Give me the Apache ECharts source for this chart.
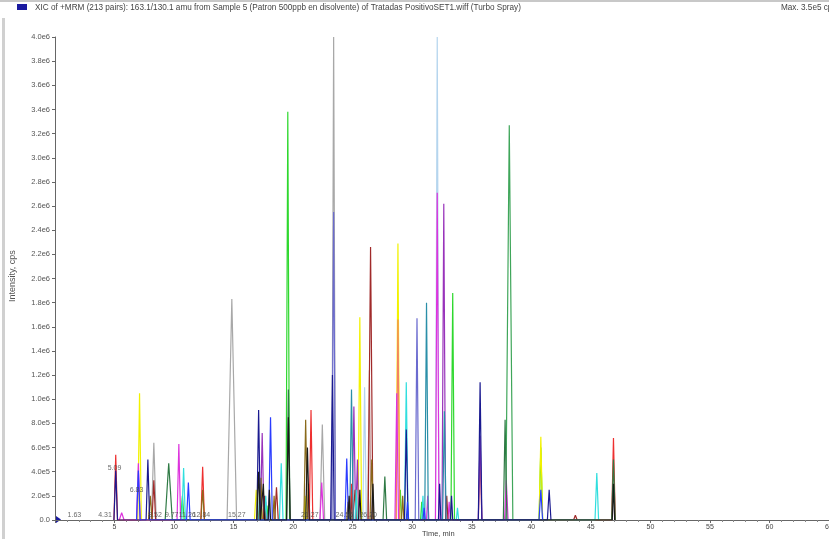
<!DOCTYPE html>
<html>
<head>
<meta charset="utf-8">
<script src="https://cdn.jsdelivr.net/npm/echarts@6/dist/echarts.min.js"></script>
<style>html,body{margin:0;padding:0;background:#fff;}#c{width:829px;height:539px;}</style>
</head>
<body>
<div id="c"></div>
<script>
// ---- data: [time (min), intensity (cps)] ----
const gray = [[8.1,0],[8.3,640000],[8.5,0],[14.45,0],[14.85,1830000],[15.25,0],[22.25,0],[22.45,790000],[22.65,0],[23.25,0],[23.4,4000000],[23.55,0]];
const brightGreen = [[10.55,0],[10.7,200000],[10.85,0],[17.7,0],[17.8,120000],[17.9,0],[19.4,0],[19.55,3380000],[19.7,0],[24.7,0],[24.8,150000],[24.9,0],[28.9,0],[29.0,250000],[29.1,0],[30.7,0],[30.8,150000],[30.9,0],[33.25,0],[33.4,1880000],[33.55,0],[40.65,0],[40.8,600000],[40.95,0]];
const midGreen = [[37.85,0],[38.15,3270000],[38.45,0]];
const slateBlue = [[23.25,0],[23.4,2550000],[23.55,0],[30.25,0],[30.4,1670000],[30.55,0]];
const lightBlue = [[25.85,0],[26.0,1100000],[26.15,0],[31.95,0],[32.1,4000000],[32.25,0]];
const magenta = [[5.4,0],[5.6,60000],[5.8,0],[6.85,0],[7.0,470000],[7.15,0],[10.25,0],[10.4,630000],[10.55,0],[17.6,0],[17.7,150000],[17.8,0],[22.25,0],[22.4,310000],[22.55,0],[28.55,0],[28.7,1050000],[28.85,0],[31.2,0],[31.3,200000],[31.4,0],[31.95,0],[32.1,2710000],[32.25,0],[33.0,0],[33.1,150000],[33.2,0],[37.75,0],[37.9,330000],[38.05,0]];
const purple = [[17.25,0],[17.4,720000],[17.55,0],[24.95,0],[25.1,940000],[25.25,0],[25.3,0],[25.4,500000],[25.5,0],[32.5,0],[32.65,2620000],[32.8,0],[35.55,0],[35.7,700000],[35.85,0]];
const yellow = [[6.95,0],[7.1,1050000],[7.25,0],[16.75,0],[16.9,250000],[17.05,0],[17.2,0],[17.3,150000],[17.4,0],[20.9,0],[21.0,200000],[21.1,0],[25.45,0],[25.6,1680000],[25.75,0],[28.65,0],[28.8,2290000],[28.95,0],[40.65,0],[40.8,690000],[40.95,0]];
const darkRed = [[8.15,0],[8.3,330000],[8.45,0],[17.5,0],[17.6,200000],[17.7,0],[18.45,0],[18.6,270000],[18.75,0],[21.2,0],[21.3,300000],[21.4,0],[24.8,0],[24.9,200000],[25.0,0],[25.1,0],[25.2,250000],[25.3,0],[26.3,0],[26.5,2260000],[26.7,0],[32.8,0],[32.9,200000],[33.0,0],[43.55,0],[43.7,40000],[43.85,0]];
const red = [[4.95,0],[5.1,540000],[5.25,0],[12.25,0],[12.4,440000],[12.55,0],[21.35,0],[21.5,910000],[21.65,0],[24.75,0],[24.9,300000],[25.05,0],[46.75,0],[46.9,680000],[47.05,0]];
const salmon = [[28.65,0],[28.8,1660000],[28.95,0],[35.55,0],[35.7,500000],[35.85,0]];
const cyan = [[10.65,0],[10.8,430000],[10.95,0],[17.6,0],[17.7,200000],[17.8,0],[18.85,0],[19.0,470000],[19.15,0],[25.2,0],[25.3,250000],[25.4,0],[29.35,0],[29.5,1140000],[29.65,0],[30.8,0],[30.9,200000],[31.0,0],[33.7,0],[33.8,100000],[33.9,0],[45.35,0],[45.5,390000],[45.65,0]];
const teal = [[17.1,0],[17.2,300000],[17.3,0],[24.75,0],[24.9,1080000],[25.05,0],[31.05,0],[31.2,1800000],[31.35,0],[32.55,0],[32.7,900000],[32.85,0]];
const navy = [[4.95,0],[5.1,410000],[5.25,0],[7.65,0],[7.8,500000],[7.95,0],[16.95,0],[17.1,910000],[17.25,0],[23.15,0],[23.3,1200000],[23.45,0],[29.35,0],[29.5,750000],[29.65,0],[32.2,0],[32.3,300000],[32.4,0],[33.2,0],[33.3,200000],[33.4,0],[35.55,0],[35.7,1140000],[35.85,0],[41.35,0],[41.5,250000],[41.65,0]];
const blue = [[6.85,0],[7.0,410000],[7.15,0],[11.05,0],[11.2,310000],[11.35,0],[17.95,0],[18.1,850000],[18.25,0],[24.35,0],[24.5,510000],[24.65,0],[29.5,0],[29.6,150000],[29.7,0],[30.9,0],[31.0,100000],[31.1,0],[40.65,0],[40.8,250000],[40.95,0]];
const black = [[16.95,0],[17.1,400000],[17.25,0],[17.4,0],[17.5,300000],[17.6,0],[17.9,0],[18.0,250000],[18.1,0],[19.45,0],[19.6,850000],[19.75,0],[21.05,0],[21.2,600000],[21.35,0],[24.6,0],[24.7,200000],[24.8,0],[25.5,0],[25.6,250000],[25.7,0],[26.6,0],[26.7,300000],[26.8,0],[46.8,0],[46.9,300000],[47.0,0]];
const olive = [[7.85,0],[8.0,200000],[8.15,0],[12.25,0],[12.4,250000],[12.55,0],[17.2,0],[17.3,350000],[17.4,0],[18.3,0],[18.4,200000],[18.5,0],[20.9,0],[21.05,830000],[21.2,0],[24.5,0],[24.6,150000],[24.7,0],[26.45,0],[26.6,500000],[26.75,0],[29.1,0],[29.2,200000],[29.3,0]];
const darkGreen = [[9.25,0],[9.55,470000],[9.85,0],[19.45,0],[19.6,1080000],[19.75,0],[27.55,0],[27.7,360000],[27.85,0],[37.65,0],[37.8,830000],[37.95,0],[46.75,0],[46.9,500000],[47.05,0]];
const rosyBrown = [[26.25,0],[26.4,1240000],[26.55,0]];

const peakLabels = [[1.63,0,'1.63'],[4.2,0,'4.31'],[8.4,0,'8.52'],[9.8,0,'9.77'],[11.1,0,'11.26'],[12.3,0,'12.84'],[15.27,0,'15.27'],[21.4,0,'21.27'],[24.3,0,'24.56'],[26.3,0,'26.20'],[5.0,390000,'5.09'],[6.85,210000,'6.83']];

const xTicks = [5,10,15,20,25,30,35,40,45,50,55,60,65];

const titleText = 'XIC of +MRM (213 pairs): 163.1/130.1 amu from Sample 5 (Patron 500ppb en disolvente) of Tratadas PositivoSET1.wiff (Turbo Spray)';
const maxText = 'Max. 3.5e5 cps.';

const seriesDefs = [
  ['gray', gray, '#a8a8a8'],
  ['lightBlue', lightBlue, '#b5d5ee'],
  ['midGreen', midGreen, '#3fa65a'],
  ['brightGreen', brightGreen, '#2ed82e'],
  ['slateBlue', slateBlue, '#6b6bcf'],
  ['rosyBrown', rosyBrown, '#c49a9a'],
  ['yellow', yellow, '#f2f200'],
  ['salmon', salmon, '#f58060'],
  ['magenta', magenta, '#dd33dd'],
  ['purple', purple, '#9933bb'],
  ['darkRed', darkRed, '#a02a2a'],
  ['red', red, '#ee3030'],
  ['cyan', cyan, '#30dede'],
  ['teal', teal, '#2a8fa8'],
  ['olive', olive, '#8a6a1a'],
  ['darkGreen', darkGreen, '#2f7a45'],
  ['navy', navy, '#1a1a90'],
  ['blue', blue, '#2a3cff'],
  ['black', black, '#1a1a1a']
];

const series = seriesDefs.map(([name, data, color]) => ({
  name, type: 'line', data, symbol: 'none', animation: false,
  lineStyle: {width: 1.2, color}, itemStyle: {color}
}));
series.push({
  type: 'scatter', data: peakLabels, symbolSize: 0, animation: false, z: 5,
  label: {show: true, position: 'top', distance: 1, formatter: p => p.data[2], fontSize: 7, color: '#444', fontFamily: 'Liberation Sans'}
});

const chart = echarts.init(document.getElementById('c'));
chart.setOption({
  backgroundColor: '#fff',
  animation: false,
  grid: {left: 55, right: 0, top: 37, bottom: 19, containLabel: false, outerBoundsMode: 'none'},
  xAxis: {
    type: 'value', min: 0, max: 65, interval: 5,
    axisLine: {lineStyle: {color: '#666', width: 1}},
    axisTick: {show: true, length: 3, lineStyle: {color: '#666'}},
    minorTick: {show: true, splitNumber: 5, length: 2, lineStyle: {color: '#888'}},
    splitLine: {show: false},
    axisLabel: {fontSize: 7, color: '#444', margin: 4, fontFamily: 'Liberation Sans', hideOverlap: false,
      formatter: v => xTicks.includes(v) ? String(v) : ''}
  },
  yAxis: {
    type: 'value', min: 0, max: 4000000, interval: 200000,
    axisLine: {show: true, lineStyle: {color: '#666', width: 1}},
    axisTick: {show: true, length: 3, lineStyle: {color: '#666'}},
    splitLine: {show: false},
    axisLabel: {fontSize: 7.5, color: '#555', margin: 5, fontFamily: 'Liberation Sans',
      formatter: v => v === 0 ? '0.0' : v.toExponential(1).replace('e+', 'e')}
  },
  graphic: [
    {type: 'rect', shape: {x: 0, y: 0, width: 829, height: 2}, style: {fill: '#c8c8c8'}, silent: true},
    {type: 'rect', shape: {x: 2, y: 18, width: 3, height: 521}, style: {fill: '#d0d0d0'}, silent: true},
    {type: 'rect', shape: {x: 17, y: 4, width: 10, height: 6}, style: {fill: '#1a1aa0'}, silent: true},
    {type: 'text', left: 35, top: 4, style: {text: titleText, fontSize: 8.2, fill: '#444', fontFamily: 'Liberation Sans'}, silent: true},
    {type: 'text', left: 781, top: 4, style: {text: maxText, fontSize: 8.2, fill: '#444', fontFamily: 'Liberation Sans'}, silent: true},
    {type: 'text', x: 8, y: 302, rotation: Math.PI / 2, style: {text: 'Intensity, cps', fontSize: 9, fill: '#555', fontFamily: 'Liberation Sans'}, silent: true},
    {type: 'text', left: 422, top: 530, style: {text: 'Time, min', fontSize: 7.5, fill: '#444', fontFamily: 'Liberation Sans'}, silent: true},
    {type: 'polygon', shape: {points: [[56, 516], [56, 523], [61, 519.5]]}, style: {fill: '#1a1aa0'}, silent: true}
  ],
  series
});
</script>
</body>
</html>
